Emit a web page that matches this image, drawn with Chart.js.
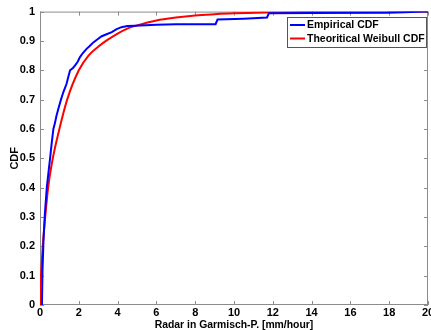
<!DOCTYPE html>
<html><head><meta charset="utf-8">
<script src="https://cdn.jsdelivr.net/npm/chart.js@4/dist/chart.umd.min.js"></script>
<style>
html,body{margin:0;padding:0;background:#fff;overflow:hidden;}
#wrap{width:440px;height:330px;position:relative;}
</style></head><body>
<div id="wrap"><canvas id="c"></canvas></div>
<script>
// Empirical CDF
const empX = [0.1,0.13,0.18,0.25,0.35,0.45,0.52,0.6,0.69,0.77,0.85,0.95,1.08,1.2,1.37,1.45,1.55,1.7,1.8,1.95,2.06,2.2,2.4,2.55,2.75,2.95,3.18,3.4,3.7,3.95,4.2,4.5,4.9,6.0,7.0,8.0,9.05,9.15,10.5,11.7,11.8,14.0,17.9,18.8,19.8,20];
const empY = [0.0,0.12,0.22,0.31,0.40,0.46,0.50,0.55,0.60,0.62,0.645,0.67,0.70,0.725,0.754,0.775,0.80,0.808,0.816,0.83,0.845,0.858,0.873,0.882,0.895,0.905,0.916,0.922,0.93,0.94,0.947,0.951,0.952,0.955,0.957,0.957,0.957,0.973,0.976,0.98,0.994,0.995,0.996,0.998,1.0,1.0];
// Theoretical Weibull CDF
const weiX = [0,0.02,0.05,0.14,0.27,0.42,0.66,1.0,1.4,2.0,2.5,3.0,3.4,4.0,4.5,5.0,6.0,7.0,8.0,9.0,10.0,12.0,14.0,16.0,20.0];
const weiY = [0,0.06,0.1,0.2,0.3,0.4,0.5,0.6,0.7,0.8,0.85,0.88,0.9,0.925,0.942,0.953,0.97,0.98,0.987,0.991,0.994,0.997,0.999,1.0,1.0];
const seriesLabels = ["Empirical CDF","Theoritical Weibull CDF"];
const xTitle = "Radar in Garmisch-P. [mm/hour]";
const yTitle = "CDF";

const toPts = (xs, ys) => xs.map((x,i)=>({x:x,y:ys[i]}));
const FONT = "'Liberation Sans', Arial, sans-serif";
const AXC = '#8c8c8c';

const boxPlugin = {
  id:'boxPlugin',
  beforeDatasetsDraw(chart){
    const {ctx, chartArea:a, scales} = chart;
    ctx.save();
    ctx.strokeStyle = AXC; ctx.lineWidth = 1;
    ctx.strokeRect(a.left+0.5, a.top+0.5, a.right-a.left-1, a.bottom-a.top-1);
    const L = 4;
    ctx.beginPath();
    scales.x.ticks.forEach(t=>{
      const px = Math.round(scales.x.getPixelForValue(t.value))+0.5;
      ctx.moveTo(px,a.bottom); ctx.lineTo(px,a.bottom-L);
      ctx.moveTo(px,a.top); ctx.lineTo(px,a.top+L);
    });
    scales.y.ticks.forEach(t=>{
      const py = Math.round(scales.y.getPixelForValue(t.value))+0.5;
      ctx.moveTo(a.left,py); ctx.lineTo(a.left+L,py);
      ctx.moveTo(a.right,py); ctx.lineTo(a.right-L,py);
    });
    ctx.stroke();
    ctx.restore();
  },
  afterDraw(chart){
    const {ctx} = chart;
    const x0=287, y0=17, w=139, h=30;
    ctx.save();
    ctx.fillStyle='#fff'; ctx.fillRect(x0,y0,w,h);
    ctx.strokeStyle='#555'; ctx.lineWidth=1;
    ctx.strokeRect(x0+0.5,y0+0.5,w,h);
    ctx.font = "bold 10.5px " + FONT;
    ctx.textBaseline='middle';
    chart.data.datasets.forEach((ds,i)=>{
      const y = y0 + 8 + i*13.5;
      ctx.strokeStyle = ds.borderColor; ctx.lineWidth=2;
      ctx.beginPath(); ctx.moveTo(x0+3,y); ctx.lineTo(x0+18,y); ctx.stroke();
      ctx.fillStyle='#000';
      ctx.fillText(ds.label, x0+20, y+0.5);
    });
    ctx.restore();
  }
};

new Chart(document.getElementById('c'), {
  type:'line',
  data:{datasets:[
    {label:seriesLabels[0], data:toPts(empX,empY), borderColor:'#0000ff', borderWidth:2, pointRadius:0, tension:0, fill:false},
    {label:seriesLabels[1], data:toPts(weiX,weiY), borderColor:'#ff0000', borderWidth:2, pointRadius:0, tension:0.4, cubicInterpolationMode:'monotone', fill:false}
  ]},
  options:{
    responsive:true, maintainAspectRatio:false, animation:false,
    layout:{padding:{top:11,right:12,left:0,bottom:0}},
    plugins:{legend:{display:false}, tooltip:{enabled:false}},
    scales:{
      x:{type:'linear', min:0, max:20,
        ticks:{stepSize:2, padding:1, color:'#000', font:{family:FONT, weight:'bold', size:11}, maxRotation:0, autoSkip:false},
        grid:{display:false, drawTicks:false},
        border:{display:false},
        title:{display:true, text:xTitle, color:'#000', font:{family:FONT, weight:'bold', size:10.4}, padding:{top:0,bottom:-1}},
        afterFit(s){ s.height = 25; }
      },
      y:{type:'linear', min:0, max:1,
        ticks:{stepSize:0.1, padding:5, color:'#000', font:{family:FONT, weight:'bold', size:11}, autoSkip:false,
          callback:(v)=>String(Math.round(v*10)/10)},
        grid:{display:false, drawTicks:false},
        border:{display:false},
        title:{display:true, text:yTitle, color:'#000', font:{family:FONT, weight:'bold', size:11}, padding:{top:8,bottom:0}},
        afterFit(s){ s.width = 40; }
      }
    }
  },
  plugins:[boxPlugin]
});
</script>
</body></html>
